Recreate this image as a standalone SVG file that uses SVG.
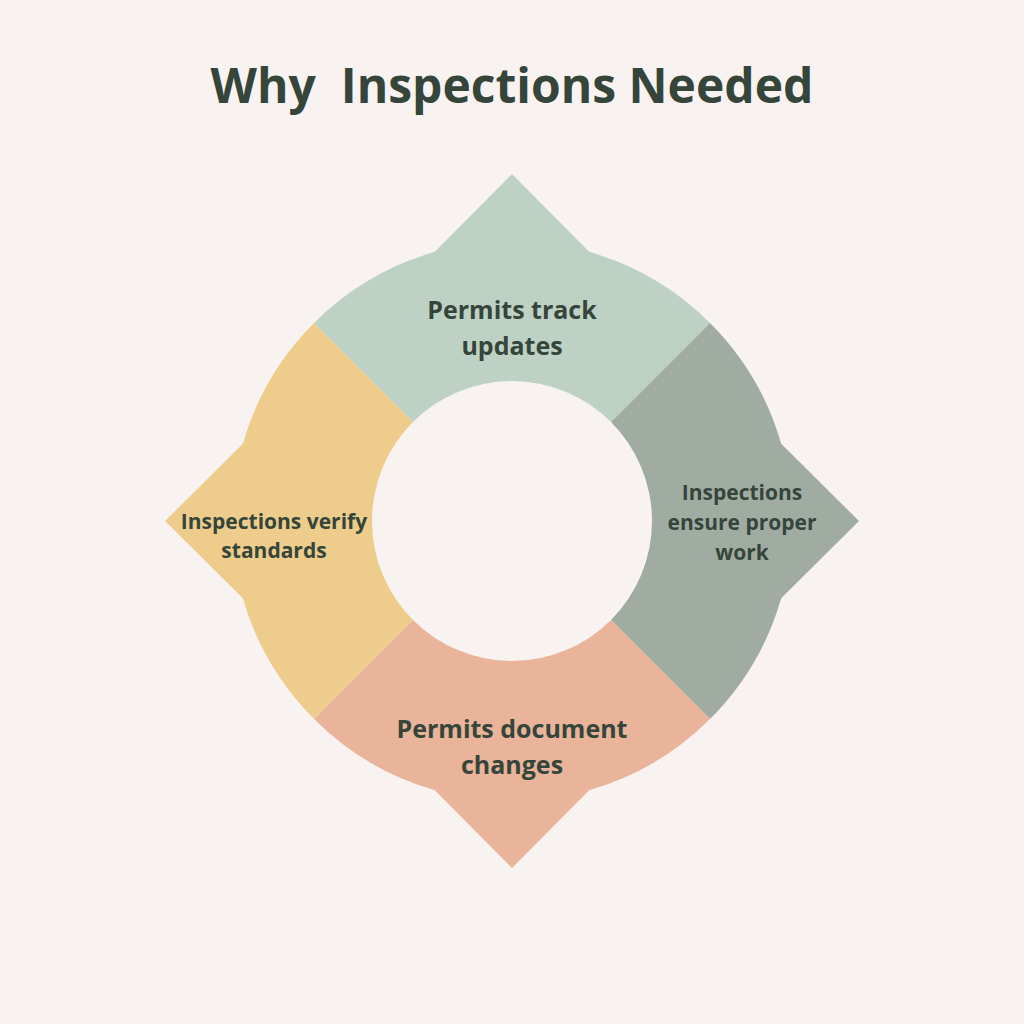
<svg xmlns="http://www.w3.org/2000/svg" width="1024" height="1024" viewBox="0 0 1024 1024">
<style>
.t{font-family:"Open Sans","Noto Sans","Liberation Sans",sans-serif;font-weight:700;fill:#36453A;text-anchor:middle}
.big{font-size:25px}
.sm{font-size:21px}
</style>
<rect width="1024" height="1024" fill="#F8F3F0"/>
<text class="t" x="512" y="103" font-size="48" xml:space="preserve" style="white-space:pre">Why  Inspections Needed</text>
<g id="top">
<path d="M 413,422 L 314,323 A 280 280 0 0 1 434.8,251.8 L 512,174 L 589.2,251.8 A 280 280 0 0 1 710,323 L 611,422 A 140 140 0 0 0 413,422 Z" fill="#BDD1C5"/>
<text class="t big" x="512" y="319">Permits track</text>
<text class="t big" x="512" y="355">updates</text>
</g>
<g id="right">
<path d="M 611,422 L 710,323 A 280 280 0 0 1 781.2,443.8 L 859,521 L 781.2,598.2 A 280 280 0 0 1 710,719 L 611,620 A 140 140 0 0 0 611,422 Z" fill="#A0ACA2"/>
<text class="t sm" x="742" y="500">Inspections</text>
<text class="t sm" x="742" y="530">ensure proper</text>
<text class="t sm" x="742" y="560">work</text>
</g>
<g id="bottom">
<path d="M 611,620 L 710,719 A 280 280 0 0 1 589.2,790.2 L 512,868 L 434.8,790.2 A 280 280 0 0 1 314,719 L 413,620 A 140 140 0 0 0 611,620 Z" fill="#E9B49A"/>
<text class="t big" x="512" y="738">Permits document</text>
<text class="t big" x="512" y="774">changes</text>
</g>
<g id="left">
<path d="M 413,620 L 314,719 A 280 280 0 0 1 242.8,598.2 L 165,521 L 242.8,443.8 A 280 280 0 0 1 314,323 L 413,422 A 140 140 0 0 0 413,620 Z" fill="#EECD8C"/>
<text class="t sm" x="274" y="529">Inspections verify</text>
<text class="t sm" x="274" y="558">standards</text>
</g>
<g id="connectors"/>
</svg>
